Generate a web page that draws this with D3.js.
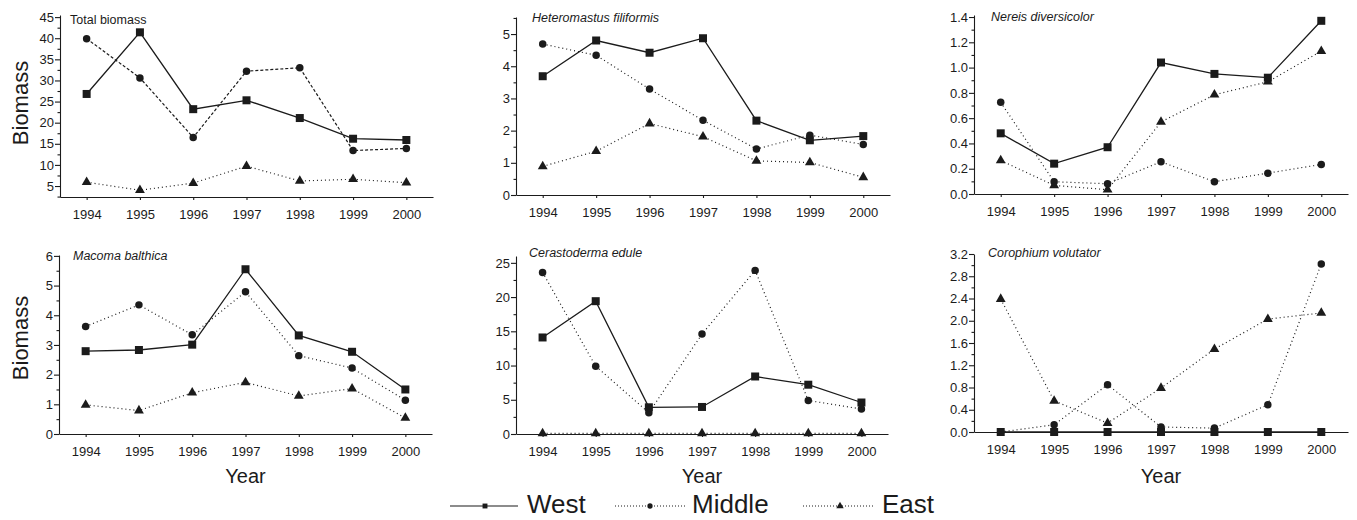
<!DOCTYPE html>
<html>
<head>
<meta charset="utf-8">
<script src="https://cdn.jsdelivr.net/npm/d3@7/dist/d3.min.js"></script>
<style>
  html, body { margin: 0; padding: 0; background: #fff; }
  svg { display: block; font-family: "Liberation Sans", Arial, sans-serif; }
</style>
</head>
<body>
<div id="chart"></div>
<script>
// data -----------------------------------------------------------------------
const years = [1994, 1995, 1996, 1997, 1998, 1999, 2000];
const seriesNames = ['West', 'Middle', 'East'];

const totalWest   = [26.8, 41.4, 23.2, 25.3, 21.1, 16.2, 15.9];
const totalMiddle = [39.9, 30.6, 16.5, 32.2, 33.0, 13.4, 13.9];
const totalEast   = [5.9, 4.0, 5.7, 9.7, 6.2, 6.6, 5.8];

const heteroWest   = [3.69, 4.80, 4.42, 4.87, 2.31, 1.70, 1.83];
const heteroMiddle = [4.69, 4.34, 3.29, 2.32, 1.43, 1.86, 1.57];
const heteroEast   = [0.89, 1.36, 2.22, 1.81, 1.06, 1.01, 0.55];

const nereisWest   = [0.48, 0.24, 0.37, 1.04, 0.95, 0.92, 1.37];
const nereisMiddle = [0.725, 0.097, 0.081, 0.255, 0.097, 0.165, 0.234];
const nereisEast   = [0.265, 0.068, 0.034, 0.57, 0.785, 0.888, 1.13];

const macomaWest   = [2.79, 2.83, 3.01, 5.55, 3.32, 2.77, 1.50];
const macomaMiddle = [3.62, 4.35, 3.34, 4.79, 2.64, 2.22, 1.14];
const macomaEast   = [0.98, 0.79, 1.39, 1.74, 1.28, 1.53, 0.54];

const ceraWest   = [14.1, 19.4, 3.9, 3.95, 8.4, 7.2, 4.6];
const ceraMiddle = [23.6, 9.9, 3.1, 14.6, 23.9, 4.9, 3.65];
const ceraEast   = [0.1, 0.1, 0.1, 0.1, 0.1, 0.1, 0.1];

const coroWest   = [0, 0, 0, 0, 0, 0, 0];
const coroMiddle = [0, 0.13, 0.85, 0.09, 0.07, 0.49, 3.02];
const coroEast   = [2.39, 0.56, 0.16, 0.79, 1.49, 2.03, 2.14];

// panels -----------------------------------------------------------------------
const panels = [
  {title: 'Total biomass', italic: false, series: [totalWest, totalMiddle, totalEast],
   x0: 60, x1: 433, yTop: 15, yBot: 197, dom: [2.4, 45.5], step: 5, fmt: d3.format('d'),
   tx: 70, ty: 24, midDash: '3,2', yLabel: true, xLabel: false},
  {title: 'Heteromastus filiformis', italic: true, series: [heteroWest, heteroMiddle, heteroEast],
   x0: 516, x1: 890, yTop: 17, yBot: 195, dom: [0, 5.53], step: 1, fmt: d3.format('d'),
   tx: 532, ty: 22, midDash: '1,3', yLabel: false, xLabel: false},
  {title: 'Nereis diversicolor', italic: true, series: [nereisWest, nereisMiddle, nereisEast],
   x0: 974, x1: 1348, yTop: 15, yBot: 194, dom: [0, 1.416], step: 0.2, fmt: d3.format('.1f'),
   tx: 991, ty: 21, midDash: '1,3', yLabel: false, xLabel: false},
  {title: 'Macoma balthica', italic: true, series: [macomaWest, macomaMiddle, macomaEast],
   x0: 59, x1: 432, yTop: 255, yBot: 434, dom: [0, 6.03], step: 1, fmt: d3.format('d'),
   tx: 73, ty: 260, midDash: '1,3', yLabel: true, xLabel: true},
  {title: 'Cerastoderma edule', italic: true, series: [ceraWest, ceraMiddle, ceraEast],
   x0: 516, x1: 888, yTop: 256, yBot: 434, dom: [0, 26], step: 5, fmt: d3.format('d'),
   tx: 529, ty: 257, midDash: '1,3', yLabel: false, xLabel: true},
  {title: 'Corophium volutator', italic: true, series: [coroWest, coroMiddle, coroEast],
   x0: 974, x1: 1348, yTop: 254, yBot: 432, dom: [0, 3.2], step: 0.4, fmt: d3.format('.1f'),
   tx: 988, ty: 257, midDash: '1,3', yLabel: false, xLabel: true}
];

const ink = '#1b1b1b';
const symbols = [d3.symbolSquare, d3.symbolCircle, d3.symbolTriangle];
const symbolSize = [64, 44, 42];

const svg = d3.select('#chart').append('svg')
  .attr('width', 1357)
  .attr('height', 520);

panels.forEach(p => {
  const g = svg.append('g');
  const x = d3.scaleLinear().domain([1993.5, 2000.5]).range([p.x0, p.x1]);
  const y = d3.scaleLinear().domain(p.dom).range([p.yBot, p.yTop]);

  // y ticks (major + minor) ------------------------------------------------------
  const first = Math.ceil(p.dom[0] / p.step - 1e-9) * p.step;
  const major = d3.range(first, p.dom[1] + 1e-9, p.step).map(v => +v.toFixed(3));
  const minor = d3.range(first - p.step / 2, p.dom[1] + 1e-9, p.step)
    .map(v => +v.toFixed(3))
    .filter(v => v > p.dom[0] + 1e-9 && v < p.dom[1]);

  g.append('g')
    .attr('transform', `translate(${p.x0},0)`)
    .call(d3.axisLeft(y).tickValues(minor).tickSize(2.5).tickSizeOuter(0).tickFormat(''))
    .call(a => a.select('.domain').remove());

  const ya = g.append('g')
    .attr('transform', `translate(${p.x0},0)`)
    .call(d3.axisLeft(y).tickValues(major).tickSize(5).tickSizeOuter(0).tickPadding(1).tickFormat(p.fmt));
  ya.selectAll('text').attr('font-size', 13).attr('fill', ink).attr('font-family', null);

  // x axis -----------------------------------------------------------------------
  const xa = g.append('g')
    .attr('transform', `translate(0,${p.yBot})`)
    .call(d3.axisBottom(x).tickValues(years).tickSize(3).tickSizeOuter(0).tickPadding(10).tickFormat(d3.format('d')));
  xa.selectAll('text').attr('font-size', 13).attr('fill', ink).attr('font-family', null);

  g.selectAll('.domain, .tick line').attr('stroke', ink).attr('stroke-width', 1.1);

  // series -----------------------------------------------------------------------
  const dashes = [null, p.midDash, '1,3'];
  const order = [2, 1, 0];
  order.forEach(si => {
    const vals = p.series[si];
    const line = d3.line().x((d, i) => x(years[i])).y(d => y(d));
    g.append('path')
      .datum(vals)
      .attr('d', line)
      .attr('fill', 'none')
      .attr('stroke', ink)
      .attr('stroke-width', si === 0 ? 1.3 : 1.2)
      .attr('stroke-dasharray', dashes[si]);
  });
  order.forEach(si => {
    g.selectAll(null)
      .data(p.series[si])
      .enter()
      .append('path')
      .attr('d', d3.symbol(symbols[si], symbolSize[si]))
      .attr('transform', (d, i) => `translate(${x(years[i])},${y(d)})`)
      .attr('fill', ink);
  });

  // labels -----------------------------------------------------------------------
  g.append('text')
    .attr('x', p.tx)
    .attr('y', p.ty)
    .attr('font-size', 12.5)
    .attr('font-style', p.italic ? 'italic' : null)
    .attr('fill', ink)
    .text(p.title);

  if (p.yLabel) {
    const cy = p.yTop < 100 ? 103 : 338;
    g.append('text')
      .attr('transform', `translate(28,${cy}) rotate(-90)`)
      .attr('text-anchor', 'middle')
      .attr('font-size', 22)
      .attr('fill', ink)
      .text('Biomass');
  }
  if (p.xLabel) {
    g.append('text')
      .attr('x', (p.x0 + p.x1) / 2)
      .attr('y', 483)
      .attr('text-anchor', 'middle')
      .attr('font-size', 20)
      .attr('fill', ink)
      .text('Year');
  }
});

// legend -------------------------------------------------------------------------
const legendX = [[450, 518, 485, 527], [615, 685, 650, 692], [803, 875, 840, 882]];
const legendDash = [null, '1,2', '1,2'];
const legendSize = [24, 22, 24];
const lg = svg.append('g');
seriesNames.forEach((name, i) => {
  const [l0, l1, m, t] = legendX[i];
  lg.append('line')
    .attr('x1', l0).attr('x2', l1)
    .attr('y1', 506).attr('y2', 506)
    .attr('stroke', ink)
    .attr('stroke-width', i === 0 ? 1.2 : 1)
    .attr('stroke-dasharray', legendDash[i]);
  lg.append('path')
    .attr('d', d3.symbol(symbols[i], legendSize[i]))
    .attr('transform', `translate(${m},506)`)
    .attr('fill', ink);
  lg.append('text')
    .attr('x', t)
    .attr('y', 513)
    .attr('font-size', 26)
    .attr('fill', ink)
    .text(name);
});
</script>
</body>
</html>
